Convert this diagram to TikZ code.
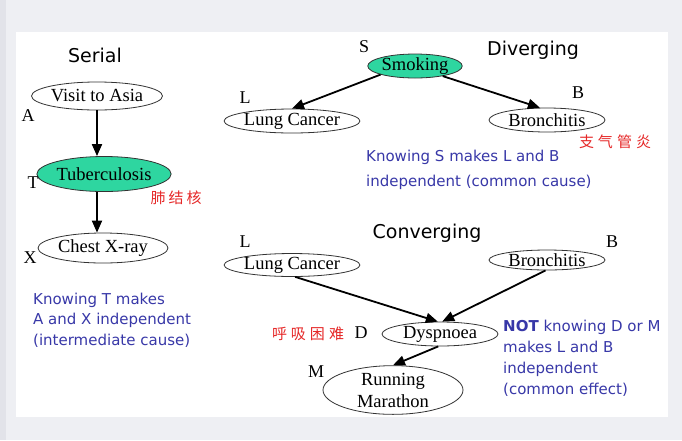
\documentclass[tikz,border=0pt]{standalone}
\usepackage{fontspec}
\setmainfont{Liberation Serif}
\setsansfont{DejaVu Sans}
\newfontfamily\cjk{Noto Sans CJK SC}
\usetikzlibrary{arrows.meta,shapes.geometric,calc}
\definecolor{pagebg}{RGB}{238,239,243}
\definecolor{stripe}{RGB}{226,227,233}
\definecolor{mint}{RGB}{46,214,160}
\definecolor{bluetxt}{RGB}{56,56,168}
\definecolor{redtxt}{RGB}{230,40,40}
\tikzset{
  x=1pt,y=-1pt,
  ell/.style={ellipse,draw=black!80,line width=0.8pt,inner sep=0pt,
    font=\fontsize{18.5}{20}\selectfont},
  gell/.style={ell,fill=mint},
  lbl/.style={font=\fontsize{18}{20}\selectfont,inner sep=0pt},
  ttl/.style={font=\sffamily\fontsize{19}{22}\selectfont,inner sep=0pt},
  note/.style={font=\sffamily\fontsize{15}{20.5}\selectfont,text=bluetxt,
    align=left,anchor=west,inner sep=0pt},
  cn/.style={font=\cjk\fontsize{15}{17}\selectfont,text=redtxt,inner sep=0pt},
  arr/.style={line width=1.8pt,-{Triangle[length=12pt,width=10pt]}},
}
\begin{document}
\begin{tikzpicture}
\useasboundingbox (0,0) rectangle (682,440);
\fill[pagebg] (0,0) rectangle (682,440);
\fill[stripe] (0,0) rectangle (6,440);
\fill[white] (16,32) rectangle (668,417);

% Serial
\node[ttl] (serial) at (95,55) {Serial};
\node[ell,minimum width=131,minimum height=28] (visit) at (97,96) {Visit to Asia};
\node[gell,minimum width=130,minimum height=35] (tb) at (104,174) {Tuberculosis};
\node[ell,minimum width=130,minimum height=30] (chest) at (103,248) {Chest X-ray};
\node[lbl] (la) at (28,116) {A};
\node[lbl] (lt) at (33,183) {T};
\node[lbl] (lx) at (30,258) {X};
\node[cn] (cfjh) at (176,198) {肺\hspace{3pt}结\hspace{3pt}核};
\draw[arr] (visit.south) -- (visit.south |- tb.north);
\draw[arr] (visit.south |- tb.south) -- (visit.south |- chest.north);
\node[note] (nserial) at (33,320) {Knowing T makes\\A and X independent\\(intermediate cause)};

% Diverging
\node[ttl] (div) at (533,50) {Diverging};
\node[gell,minimum width=94,minimum height=24] (sm) at (415,66) {Smoking};
\node[ell,minimum width=130,minimum height=24] (lc) at (292,121) {Lung Cancer};
\node[ell,minimum width=116,minimum height=24] (br) at (547,120) {Bronchitis};
\node[lbl] (ls) at (364,47) {S};
\node[lbl] (ll) at (245,98) {L};
\node[lbl] (lb) at (578,93) {B};
\node[cn] (czqgy) at (615,142) {支\hspace{4pt}气\hspace{4pt}管\hspace{4pt}炎};
\draw[arr] (sm.194) -- (lc.north);
\draw[arr] (sm.340) -- (br.120);
\node[note,font=\sffamily\fontsize{15}{25}\selectfont] (ndiv) at (366,169.5) {Knowing S makes L and B\\independent (common cause)};

% Converging
\node[ttl] (conv) at (427,233) {Converging};
\node[ell,minimum width=130,minimum height=22] (lc2) at (292,265) {Lung Cancer};
\node[ell,minimum width=116,minimum height=20] (br2) at (547,260) {Bronchitis};
\node[ell,minimum width=116,minimum height=24] (dy) at (440,334) {Dyspnoea};
\node[ell,minimum width=140,minimum height=46,align=center,
  font=\fontsize{18.5}{22}\selectfont] (rm) at (393,390) {Running\\Marathon};
\node[lbl] (ll2) at (245,242) {L};
\node[lbl] (lb2) at (612,242) {B};
\node[lbl] (ld) at (361,333) {D};
\node[lbl] (lm) at (316,372) {M};
\node[cn] (chxkn) at (308,334) {呼\hspace{4pt}吸\hspace{4pt}困\hspace{4pt}难};
\draw[arr] (lc2.285) -- (dy.100);
\draw[arr] (br2.262) -- (dy.80);
\draw[arr] (dy.262) -- (rm.north);
\node[note,font=\sffamily\fontsize{15}{21}\selectfont] (nconv) at (503,358) {\textbf{NOT} knowing D or M\\makes L and B\\independent\\(common effect)};
\end{tikzpicture}
\end{document}
